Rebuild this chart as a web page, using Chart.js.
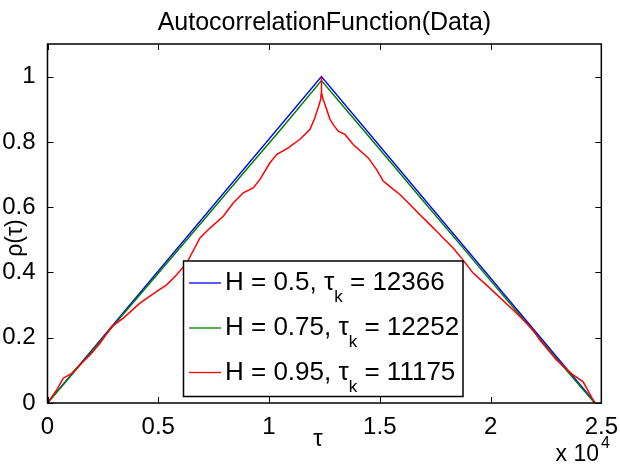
<!DOCTYPE html>
<html>
<head>
<meta charset="utf-8">
<script src="https://cdn.jsdelivr.net/npm/chart.js@4.4.1/dist/chart.umd.min.js"></script>
<style>
  html, body { margin: 0; padding: 0; background: #fff; }
</style>
</head>
<body>
<canvas id="acfChart" width="620" height="471"></canvas>
<script>
// values (tau in samples, rho dimensionless)
const blueTau = [0, 12366, 24732];
const blueRho = [0, 1, 0];

const greenTau = [0, 1500, 3000, 4500, 6000, 7500, 9000, 10500, 12366, 14000, 15500, 17000, 18500, 20000, 21500, 23000, 24700];
const greenRho = [0, 0.119, 0.239, 0.358, 0.477, 0.597, 0.717, 0.836, 0.988, 0.857, 0.737, 0.616, 0.496, 0.375, 0.255, 0.134, 0];

const redTau = [0, 415, 713, 1092, 1467, 1918, 2370, 2897, 3421, 4174, 4928, 5379, 5830, 6282, 6882, 7333, 7934, 8384, 8836, 9287, 9590, 10041, 10343, 10866, 11394, 11846, 12071, 12220, 12329, 12360, 12366, 12372, 12446, 12599, 12748, 12898, 13124, 13425, 13800, 14178, 14478, 14856, 15153, 15532, 15907, 16359, 16810, 17185, 17565, 17938, 18312, 18690, 19215, 19968, 21174, 21925, 22225, 22978, 23729, 24180, 24707];
const redRho = [0, 0.04, 0.076, 0.091, 0.117, 0.147, 0.183, 0.234, 0.26, 0.306, 0.342, 0.362, 0.393, 0.429, 0.506, 0.536, 0.572, 0.613, 0.644, 0.659, 0.685, 0.736, 0.761, 0.782, 0.808, 0.838, 0.874, 0.905, 0.93, 0.95, 1.0, 0.95, 0.93, 0.9, 0.87, 0.853, 0.833, 0.823, 0.792, 0.769, 0.751, 0.715, 0.68, 0.659, 0.639, 0.608, 0.577, 0.552, 0.526, 0.5, 0.475, 0.444, 0.398, 0.352, 0.275, 0.224, 0.193, 0.132, 0.086, 0.065, 0];

const legendH = ['0.5', '0.75', '0.95'];
const legendTauK = ['12366', '12252', '11175'];

const xTicks = [0, 5000, 10000, 15000, 20000, 25000];
const yTicks = [0, 0.2, 0.4, 0.6, 0.8, 1];

const FONT = "'Liberation Sans', Arial, Helvetica, sans-serif";

function toPoints(xs, ys) {
  return xs.map((v, i) => ({ x: v, y: ys[i] }));
}

// box, inward ticks, legend with subscript and the axis labels, matlab style
const matlabFrame = {
  id: 'matlabFrame',
  afterDatasetsDraw(chart) {
    const { ctx, chartArea: a, scales: { x, y } } = chart;
    ctx.save();

    ctx.strokeStyle = '#000';
    ctx.lineWidth = 1.5;
    ctx.strokeRect(a.left, a.top, a.right - a.left, a.bottom - a.top);

    ctx.lineWidth = 1;
    ctx.beginPath();
    xTicks.forEach(v => {
      const px = Math.round(x.getPixelForValue(v)) + 0.5;
      ctx.moveTo(px, a.bottom); ctx.lineTo(px, a.bottom - 6);
      ctx.moveTo(px, a.top); ctx.lineTo(px, a.top + 6);
    });
    yTicks.forEach(v => {
      const py = Math.round(y.getPixelForValue(v)) + 0.5;
      ctx.moveTo(a.left, py); ctx.lineTo(a.left + 6, py);
      ctx.moveTo(a.right, py); ctx.lineTo(a.right - 6, py);
    });
    ctx.stroke();

    // legend
    const box = { left: 183.5, top: 261, right: 463, bottom: 396.5 };
    ctx.fillStyle = '#fff';
    ctx.fillRect(box.left, box.top, box.right - box.left, box.bottom - box.top);
    ctx.lineWidth = 1.5;
    ctx.strokeStyle = '#000';
    ctx.strokeRect(box.left, box.top, box.right - box.left, box.bottom - box.top);

    const rowY = [283, 328, 372.5];
    chart.data.datasets.forEach((ds, i) => {
      const ly = rowY[i];
      ctx.strokeStyle = ds.borderColor;
      ctx.lineWidth = 1.3;
      ctx.beginPath();
      ctx.moveTo(189, ly); ctx.lineTo(221, ly);
      ctx.stroke();

      ctx.fillStyle = '#000';
      ctx.textAlign = 'left';
      ctx.textBaseline = 'alphabetic';
      const base = ly + 7;
      let tx = 225;
      const head = 'H = ' + legendH[i] + ', τ';
      ctx.font = '26px ' + FONT;
      ctx.fillText(head, tx, base);
      tx += ctx.measureText(head).width;
      ctx.font = '17px ' + FONT;
      ctx.fillText('k', tx, base + 12);
      tx += ctx.measureText('k').width;
      ctx.font = '26px ' + FONT;
      ctx.fillText(' = ' + legendTauK[i], tx, base);
    });

    // axis labels
    ctx.fillStyle = '#000';
    ctx.font = '24px ' + FONT;
    ctx.textAlign = 'center';
    ctx.textBaseline = 'alphabetic';
    ctx.fillText('τ', 318, 446);

    ctx.save();
    ctx.translate(16, 238);
    ctx.rotate(-Math.PI / 2);
    ctx.font = '23px ' + FONT;
    ctx.textBaseline = 'middle';
    ctx.fillText('ρ(τ)', 0, 0);
    ctx.restore();

    ctx.textAlign = 'right';
    ctx.font = '23px ' + FONT;
    ctx.fillText('x 10', 599, 461);
    ctx.textAlign = 'left';
    ctx.font = '16px ' + FONT;
    ctx.fillText('4', 601, 448);

    ctx.restore();
  }
};

new Chart(document.getElementById('acfChart').getContext('2d'), {
  type: 'line',
  data: {
    datasets: [{
      label: 'H = 0.5, τk = 12366',
      data: toPoints(blueTau, blueRho),
      borderColor: '#0000ff',
      borderWidth: 1.5,
      pointRadius: 0,
      order: 3
    }, {
      label: 'H = 0.75, τk = 12252',
      data: toPoints(greenTau, greenRho),
      borderColor: '#008000',
      borderWidth: 1.5,
      pointRadius: 0,
      order: 2
    }, {
      label: 'H = 0.95, τk = 11175',
      data: toPoints(redTau, redRho),
      borderColor: '#ff0000',
      borderWidth: 1.5,
      pointRadius: 0,
      order: 1
    }]
  },
  options: {
    responsive: false,
    animation: false,
    devicePixelRatio: 1,
    layout: { padding: { left: 0, right: 18.5, top: 0, bottom: 0 } },
    plugins: {
      legend: { display: false },
      tooltip: { enabled: false },
      title: {
        display: true,
        fullSize: false,
        text: 'AutocorrelationFunction(Data)',
        color: '#000',
        font: { family: FONT, size: 25, weight: 'normal' },
        padding: { top: 8, bottom: 6 }
      }
    },
    scales: {
      x: {
        type: 'linear',
        min: 0,
        max: 25000,
        grid: { display: false },
        border: { display: false },
        ticks: {
          color: '#000',
          autoSkip: false,
          maxRotation: 0,
          padding: 2,
          font: { family: FONT, size: 24 },
          callback: v => String(v / 10000)
        },
        afterBuildTicks: s => { s.ticks = xTicks.map(v => ({ value: v })); },
        afterFit: s => { s.height = 68; }
      },
      y: {
        min: 0,
        max: 1.1,
        grid: { display: false },
        border: { display: false },
        ticks: {
          color: '#000',
          autoSkip: false,
          padding: 4,
          font: { family: FONT, size: 24 },
          callback: v => String(v)
        },
        afterBuildTicks: s => { s.ticks = yTicks.map(v => ({ value: v })); },
        afterFit: s => { s.width = 47.5; }
      }
    }
  },
  plugins: [matlabFrame]
});
</script>
</body>
</html>
